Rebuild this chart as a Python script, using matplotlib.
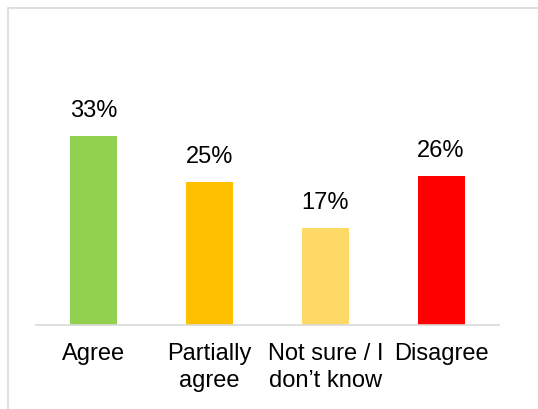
import matplotlib
matplotlib.use("Agg")
import matplotlib.pyplot as plt
from matplotlib.patches import Rectangle

categories = ["Agree", "Partially\nagree", "Not sure / I\ndon\u2019t know", "Disagree"]
values = [33, 25, 17, 26]
colors = ["#92D050", "#FFC000", "#FFD966", "#FF0000"]

plt.rcParams["font.family"] = ["Liberation Sans", "DejaVu Sans"]

W, H = 538, 409
fig = plt.figure(figsize=(W / 100, H / 100), dpi=100)

# light grey chart frame (only top and left edges visible in the crop)
fig.patches.append(Rectangle((7.5 / W, -0.2), 2, (H - 7.5) / H + 0.2,
                             transform=fig.transFigure, fill=False,
                             edgecolor="#D9D9D9", linewidth=1.2))

ax = fig.add_axes([36 / W, 84 / H, 463 / W, 229 / H])
x = range(len(values))
bars = ax.bar(x, values, width=0.405, color=colors)

for b, v in zip(bars, values):
    ax.text(b.get_x() + b.get_width() / 2, v + 2.4, f"{v}%",
            ha="center", va="bottom", fontsize=17, color="#000000")

ax.set_xlim(-0.5, 3.5)
ax.set_ylim(0, 40)
ax.set_xticks(list(x))
ax.set_xticklabels(categories, fontsize=17, linespacing=1.28,
                   multialignment="center")
ax.tick_params(axis="x", length=0, pad=13)
ax.set_yticks([])
for s in ["top", "right", "left"]:
    ax.spines[s].set_visible(False)
ax.spines["bottom"].set_color("#D9D9D9")
ax.spines["bottom"].set_linewidth(1.2)

fig.savefig("out.png", dpi=100)
